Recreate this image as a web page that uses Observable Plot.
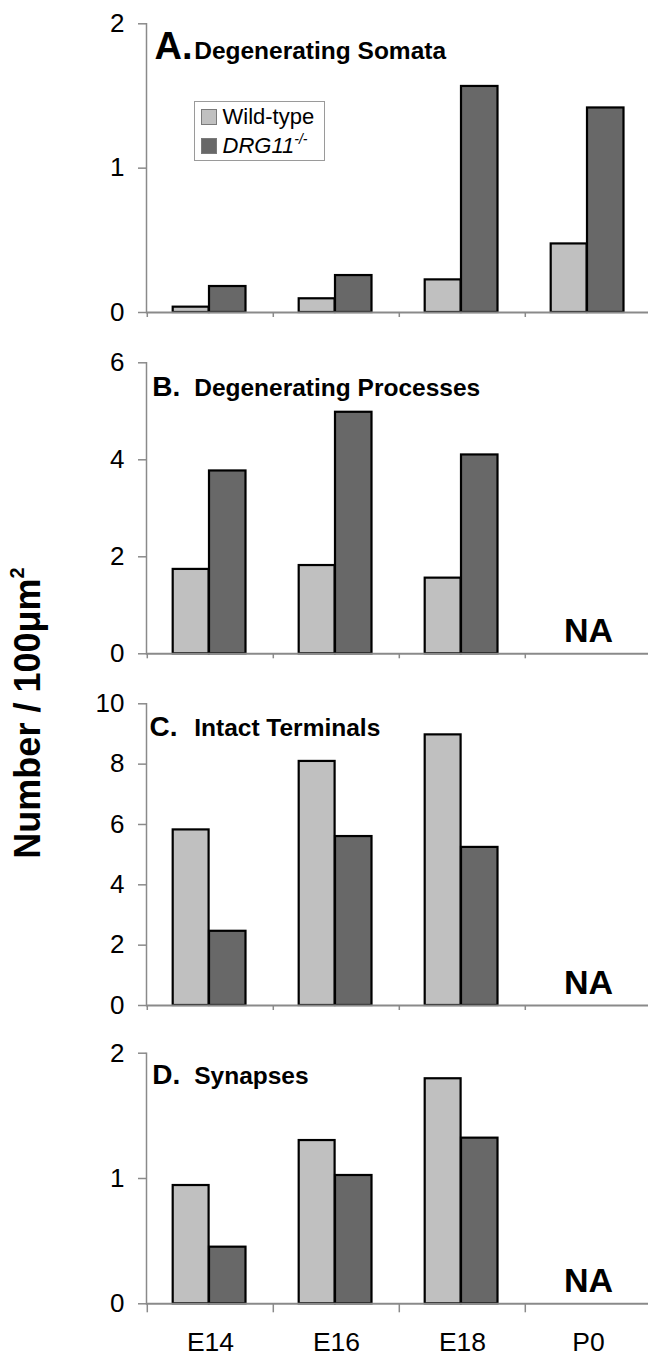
<!DOCTYPE html>
<html>
<head>
<meta charset="utf-8">
<script src="https://cdn.jsdelivr.net/npm/d3@7"></script>
<script src="https://cdn.jsdelivr.net/npm/@observablehq/plot@0.6"></script>
<style>
  html, body { margin: 0; padding: 0; background: white; }
  #chart { position: relative; width: 648px; height: 1358px; overflow: hidden; font-family: "Liberation Sans", Arial, sans-serif; }
  #chart svg { display: block; }
  #ylabel { position: absolute; left: 28px; top: 713px; transform: translate(-50%, -50%) rotate(-90deg);
    white-space: nowrap; font-weight: bold; font-size: 36px; line-height: 1; color: #000; }
  #ylabel sup { font-size: 20px; vertical-align: 0; position: relative; top: -16px; }
  #legend { position: absolute; left: 193.5px; top: 100.7px; width: 129px; height: 58px; border: 1px solid #9a9a9a; background: white;
    font-size: 22px; color: #000; }
  #legend .row { position: absolute; left: 6px; height: 24px; display: flex; align-items: center; }
  #legend .sw { width: 14px; height: 14px; border: 1px solid #7a7a7a; margin-right: 6px; }
  #legend sup { font-size: 14px; vertical-align: 0; position: relative; top: -9px; }
</style>
</head>
<body>
<div id="chart">
  <div id="panels"></div>
  <div id="ylabel">Number / 100μm<sup>2</sup></div>
  <div id="legend">
    <div class="row" style="top:3px"><div class="sw" style="background:#c0c0c0"></div><span>Wild-type</span></div>
    <div class="row" style="top:32px"><div class="sw" style="background:#686868"></div><span><i>DRG11<sup>-/-</sup></i></span></div>
  </div>
</div>
<script>
// ---- data ----
const categories = ["E14", "E16", "E18", "P0"];
const series = ["Wild-type", "DRG11-/-"];

const somataWild = [0.037, 0.095, 0.226, 0.475];
const somataKO   = [0.18, 0.256, 1.566, 1.417];

const processesWild = [1.74, 1.82, 1.56, null];
const processesKO   = [3.77, 4.98, 4.10, null];

const terminalsWild = [5.82, 8.09, 8.97, null];
const terminalsKO   = [2.46, 5.60, 5.24, null];

const synapsesWild = [0.944, 1.303, 1.796, null];
const synapsesKO   = [0.452, 1.024, 1.322, null];

const ticksA = [0, 1, 2];
const ticksB = [0, 2, 4, 6];
const ticksC = [0, 2, 4, 6, 8, 10];
const ticksD = [0, 1, 2];

const naLabel = "NA";

// ---- layout / style ----
const W = 648;
const X0 = 146, X1 = 651.6;
const bw = (X1 - X0) / categories.length;
const font = "Liberation Sans, Arial, sans-serif";
const axisGray = "#8a8a8a";
const colors = {"Wild-type": "#c0c0c0", "DRG11-/-": "#686868"};

function rows(wild, ko) {
  const out = [];
  categories.forEach((c, i) => {
    if (wild[i] != null) out.push({cat: c, series: series[0], value: wild[i]});
    if (ko[i] != null) out.push({cat: c, series: series[1], value: ko[i]});
  });
  return out;
}

function panel(o) {
  const data = rows(o.wild, o.ko);
  const marks = [
    Plot.barY(data.filter(d => d.series === series[0]), {x: "cat", y: "value", fill: colors[series[0]], stroke: "#000", strokeWidth: 2.2, insetLeft: 25.7, insetRight: 64.4}),
    Plot.barY(data.filter(d => d.series === series[1]), {x: "cat", y: "value", fill: colors[series[1]], stroke: "#000", strokeWidth: 2.2, insetLeft: 62, insetRight: 27.5}),
    Plot.frame({anchor: "left", stroke: axisGray, strokeWidth: 1.5}),
    Plot.ruleY([0], {stroke: axisGray, strokeWidth: 2}),
    Plot.axisY({ticks: o.ticks, tickFormat: d3.format("d"), tickSize: 8, tickPadding: 14, fontSize: 26, stroke: axisGray, fill: "#000", strokeWidth: 1.5, label: null}),
    Plot.axisX({ticks: categories, tickSize: o.xTick, tickFormat: () => "", dx: -bw / 2, stroke: axisGray, strokeWidth: 1.5, label: null}),
    Plot.text([o.letter], {frameAnchor: "top-left", text: d => d, dx: o.letterDx, dy: o.titleDy, fontSize: o.letterSize, fontWeight: "bold", textAnchor: "start", lineAnchor: "bottom", fill: "#000"}),
    Plot.text([o.title], {frameAnchor: "top-left", text: d => d, dx: 47.7, dy: o.titleDy, fontSize: 24.5, fontWeight: "bold", textAnchor: "start", lineAnchor: "bottom", fill: "#000"})
  ];
  if (o.na) {
    marks.push(Plot.text([{cat: categories[3], label: naLabel}], {x: "cat", y: () => 0, text: "label", dy: -11.5, fontSize: 34, fontWeight: "bold", lineAnchor: "bottom", fill: "#000"}));
  }
  if (o.showX) {
    marks.push(Plot.axisX({ticks: categories, tickSize: 0, tickPadding: 28, fontSize: 26.5, fill: "#000", label: null}));
  }
  return Plot.plot({
    width: W,
    height: o.height,
    marginLeft: X0,
    marginRight: 0,
    marginTop: o.mt,
    marginBottom: o.mb,
    style: {fontFamily: font, background: "white", color: "#000", overflow: "visible"},
    x: {domain: categories, range: [X0, X1], padding: 0, axis: null},
    y: {domain: [0, o.max], axis: null},
    marks
  });
}

const host = document.getElementById("panels");
host.appendChild(panel({wild: somataWild, ko: somataKO, max: 2, ticks: ticksA, height: 330, mt: 23.3, mb: 18,
  letter: "A.", letterSize: 38, letterDx: 8, title: "Degenerating Somata", titleDy: 35, na: false, xTick: 5}));
host.appendChild(panel({wild: processesWild, ko: processesKO, max: 6, ticks: ticksB, height: 340, mt: 32.3, mb: 16.7,
  letter: "B.", letterSize: 28, letterDx: 5.7, title: "Degenerating Processes", titleDy: 32.7, na: true, xTick: 5}));
host.appendChild(panel({wild: terminalsWild, ko: terminalsKO, max: 10, ticks: ticksC, height: 350, mt: 33.3, mb: 15,
  letter: "C.", letterSize: 28, letterDx: 3, title: "Intact Terminals", titleDy: 31.7, na: true, xTick: 5}));
host.appendChild(panel({wild: synapsesWild, ko: synapsesKO, max: 2, ticks: ticksD, height: 338, mt: 32.7, mb: 54.7,
  letter: "D.", letterSize: 28, letterDx: 5.7, title: "Synapses", titleDy: 30.6, na: true, showX: true, xTick: 9}));
</script>
</body>
</html>
